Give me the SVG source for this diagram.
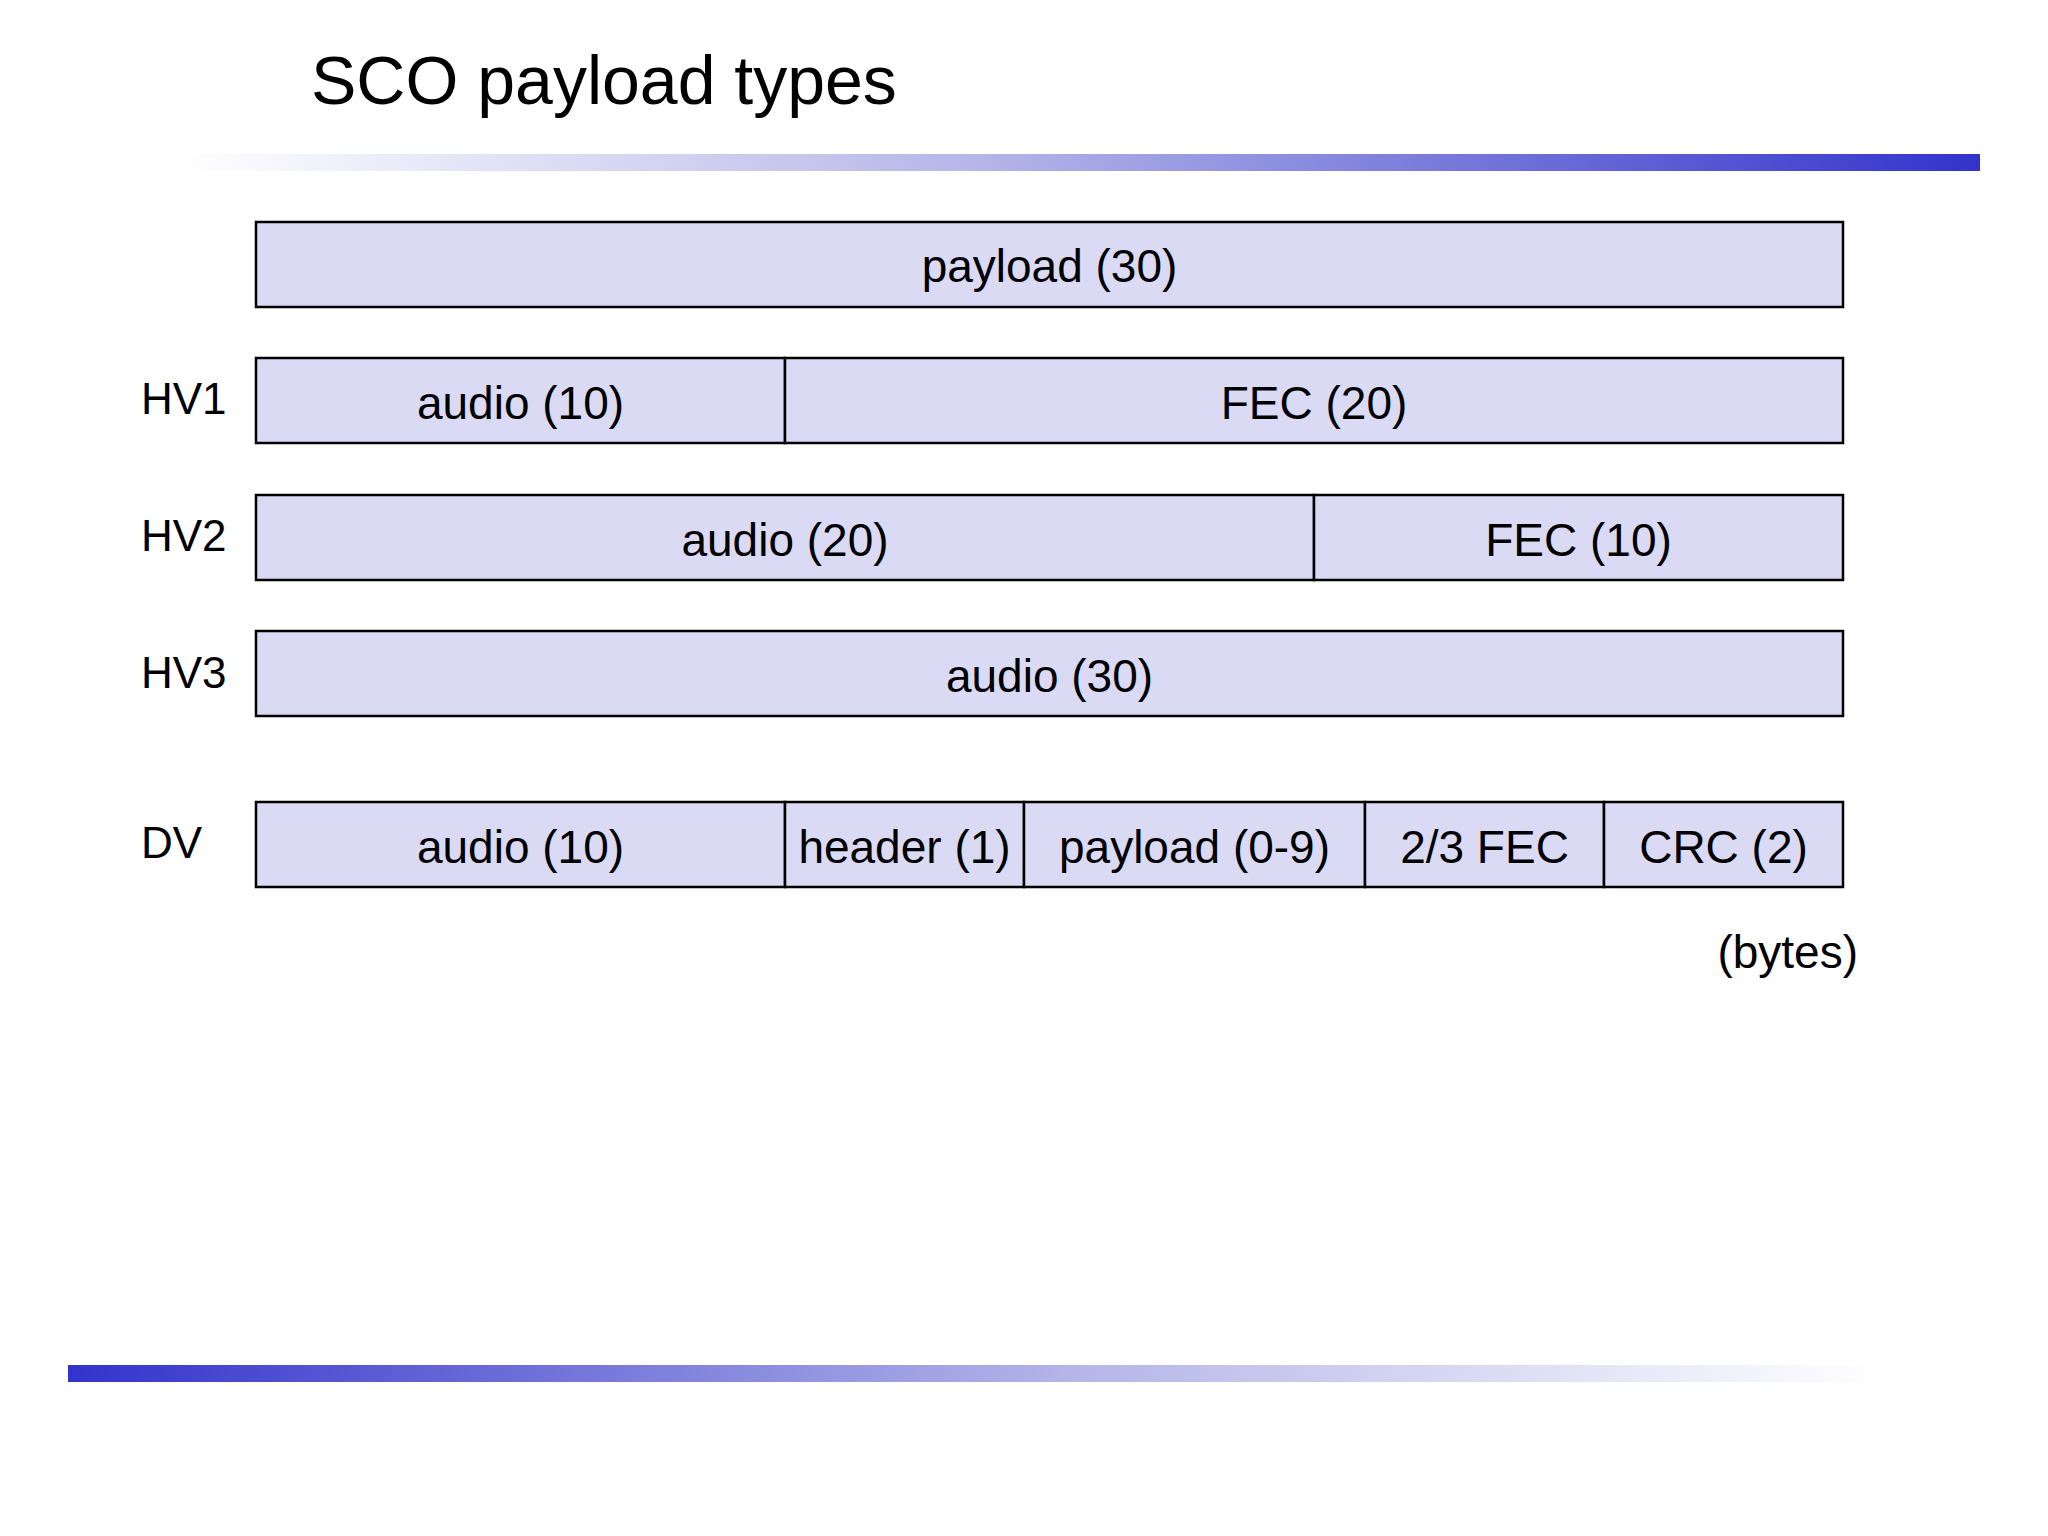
<svg xmlns="http://www.w3.org/2000/svg" width="2048" height="1536" viewBox="0 0 2048 1536">
  <defs>
    <linearGradient id="gTop" x1="0" y1="0" x2="1" y2="0">
      <stop offset="0" stop-color="#FFFFFF"/>
      <stop offset="0.45" stop-color="#B4B4E8"/>
      <stop offset="1" stop-color="#3333CC"/>
    </linearGradient>
    <linearGradient id="gBot" x1="0" y1="0" x2="1" y2="0">
      <stop offset="0" stop-color="#3333CC"/>
      <stop offset="0.55" stop-color="#B4B4E8"/>
      <stop offset="1" stop-color="#FFFFFF"/>
    </linearGradient>
  </defs>
  <style>
    .f { fill: #DADAF4; stroke: #000; stroke-width: 2.5; }
    .t { font-family: "Liberation Sans", Arial, sans-serif; font-size: 46px; fill: #000; text-anchor: middle; }
    .lbl { font-family: "Liberation Sans", Arial, sans-serif; font-size: 44px; fill: #000; }
    .title { font-family: "Liberation Sans", Arial, sans-serif; font-size: 68px; fill: #000; }
  </style>
  <rect width="2048" height="1536" fill="#fff"/>
  <text class="title" x="311" y="104">SCO payload types</text>
  <rect x="180" y="154" width="1800" height="17" fill="url(#gTop)"/>
  <rect x="68" y="1365" width="1812" height="17" fill="url(#gBot)"/>

  <g id="payload">
    <rect class="f" x="256" y="222" width="1587" height="85"/>
    <text class="t" x="1049.5" y="282">payload (30)</text>
  </g>

  <g id="HV1">
    <text class="lbl" x="141" y="414">HV1</text>
    <rect class="f" x="256" y="358" width="529" height="85"/>
    <rect class="f" x="785" y="358" width="1058" height="85"/>
    <text class="t" x="520.5" y="419">audio (10)</text>
    <text class="t" x="1314" y="419">FEC (20)</text>
  </g>

  <g id="HV2">
    <text class="lbl" x="141" y="551">HV2</text>
    <rect class="f" x="256" y="495" width="1058" height="85"/>
    <rect class="f" x="1314" y="495" width="529" height="85"/>
    <text class="t" x="785" y="556">audio (20)</text>
    <text class="t" x="1578.5" y="556">FEC (10)</text>
  </g>

  <g id="HV3">
    <text class="lbl" x="141" y="688">HV3</text>
    <rect class="f" x="256" y="631" width="1587" height="85"/>
    <text class="t" x="1049.5" y="692">audio (30)</text>
  </g>

  <g id="DV">
    <text class="lbl" x="141" y="858">DV</text>
    <rect class="f" x="256" y="802" width="529" height="85"/>
    <rect class="f" x="785" y="802" width="239" height="85"/>
    <rect class="f" x="1024" y="802" width="341" height="85"/>
    <rect class="f" x="1365" y="802" width="239" height="85"/>
    <rect class="f" x="1604" y="802" width="239" height="85"/>
    <text class="t" x="520.5" y="863">audio (10)</text>
    <text class="t" x="904.5" y="863">header (1)</text>
    <text class="t" x="1194.5" y="863">payload (0-9)</text>
    <text class="t" x="1484.5" y="863">2/3 FEC</text>
    <text class="t" x="1723.5" y="863">CRC (2)</text>
  </g>

  <text class="t" x="1858" y="968" style="text-anchor:end">(bytes)</text>
</svg>
